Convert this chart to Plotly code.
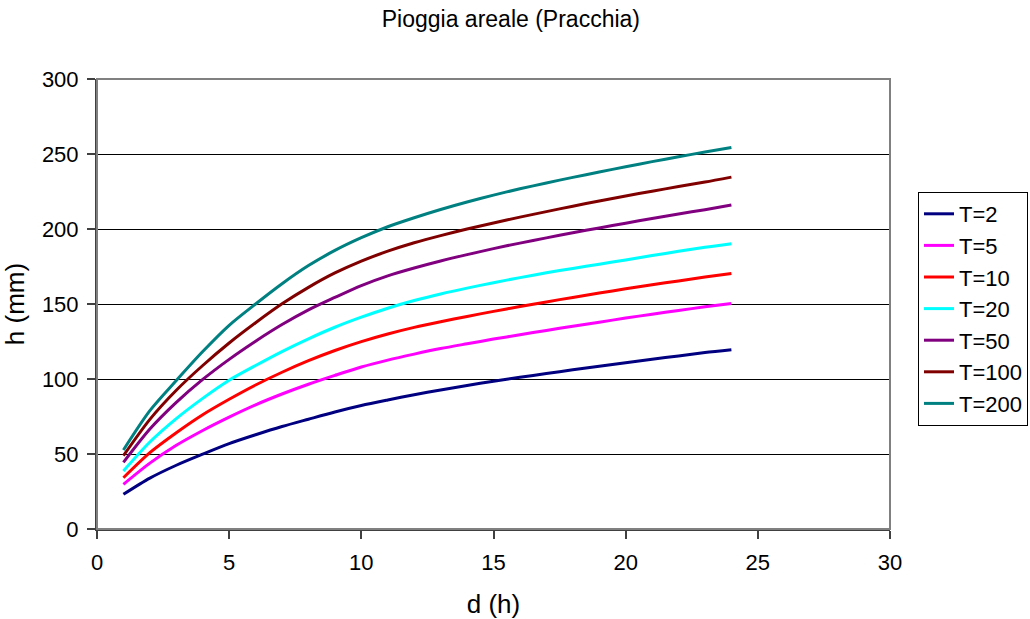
import plotly.graph_objects as go

# Durations (hours)
durations = list(range(1, 25))

# Areal rainfall depth h (mm) for each return period T
h_T2 = [23.1, 33.9, 42.5, 49.9, 56.9, 62.8, 68.3, 73.2, 78.0, 82.3, 86.0, 89.5,
        92.7, 95.7, 98.5, 101.1, 103.6, 106.1, 108.5, 110.9, 113.2, 115.4, 117.6, 119.5]
h_T5 = [29.8, 43.9, 55.8, 65.7, 74.6, 82.8, 90.0, 96.5, 102.4, 108.0, 112.6, 116.6,
        120.3, 123.5, 126.6, 129.5, 132.4, 135.2, 137.9, 140.6, 143.2, 145.7, 148.1, 150.4]
h_T10 = [34.2, 50.9, 64.2, 76.2, 86.5, 96.0, 104.5, 112.2, 119.0, 124.9, 130.0, 134.4,
         138.2, 141.7, 145.1, 148.3, 151.4, 154.4, 157.3, 160.1, 162.8, 165.4, 168.0, 170.4]
h_T20 = [38.7, 58.0, 73.6, 87.1, 99.2, 109.0, 118.3, 126.8, 134.5, 141.2, 147.2, 152.3,
         156.7, 160.6, 164.2, 167.6, 170.8, 173.7, 176.5, 179.4, 182.3, 185.1, 187.8, 190.2]
h_T50 = [44.4, 66.6, 84.4, 99.7, 113.1, 125.2, 136.3, 146.1, 154.4, 162.3, 168.8, 174.0,
         178.7, 182.9, 186.9, 190.6, 194.1, 197.5, 200.7, 203.9, 207.0, 210.0, 212.9, 216.0]
h_T100 = [48.9, 73.1, 92.5, 109.0, 124.0, 137.5, 150.1, 161.1, 170.7, 178.6, 185.2, 190.8,
          195.6, 200.0, 204.0, 207.9, 211.6, 215.2, 218.7, 222.0, 225.2, 228.3, 231.3, 234.6]
h_T200 = [52.7, 78.9, 99.0, 118.3, 135.8, 150.0, 163.5, 175.6, 185.7, 194.2, 201.5, 207.5,
          213.0, 218.0, 222.6, 226.8, 230.7, 234.4, 238.0, 241.5, 244.9, 248.2, 251.3, 254.3]

series_names = ["T=2", "T=5", "T=10", "T=20", "T=50", "T=100", "T=200"]
series_values = [h_T2, h_T5, h_T10, h_T20, h_T50, h_T100, h_T200]
series_colors = ["#000080", "#FF00FF", "#FF0000", "#00FFFF", "#800080", "#800000", "#008080"]

x_ticks = [0, 5, 10, 15, 20, 25, 30]
y_ticks = [0, 50, 100, 150, 200, 250, 300]

FONT = "Liberation Sans, Arial, sans-serif"

fig = go.Figure()
for name, vals, col in zip(series_names, series_values, series_colors):
    fig.add_trace(go.Scatter(
        x=durations, y=vals, name=name, mode="lines",
        line=dict(color=col, width=3, shape="spline", smoothing=0.8),
    ))

fig.update_layout(
    width=1030, height=619,
    margin=dict(l=97, r=140, t=79, b=90, autoexpand=False),
    paper_bgcolor="white", plot_bgcolor="white",
    font=dict(family=FONT, size=22, color="black"),
    title=dict(text="Pioggia areale (Pracchia)", x=0.496, xanchor="center",
               y=0.97, yanchor="middle", font=dict(size=23)),
    showlegend=True,
    legend=dict(
        xref="container", yref="container",
        x=918 / 1030, xanchor="left", y=1 - 192 / 619, yanchor="top",
        bordercolor="black", borderwidth=1, bgcolor="white",
        font=dict(size=22), itemwidth=30, tracegroupgap=0,
    ),
)

fig.update_xaxes(
    range=[0, 30], tickvals=x_ticks, ticktext=[str(v) for v in x_ticks],
    showgrid=False, zeroline=False,
    showline=True, linecolor="#404040", linewidth=2,
    ticks="outside", ticklen=8, tickwidth=2, tickcolor="#404040",
    ticklabelstandoff=5,
    title=dict(text="d (h)", standoff=20),
)
fig.update_yaxes(
    range=[0, 300], tickvals=y_ticks, ticktext=[str(v) for v in y_ticks],
    showgrid=True, gridcolor="black", gridwidth=1, zeroline=False,
    showline=True, linecolor="#404040", linewidth=2,
    ticks="outside", ticklen=8, tickwidth=2, tickcolor="#404040",
    ticklabelstandoff=4,
    title=dict(text="h (mm)", standoff=11),
)

# Plot-area border (grey), drawn over the top gridline
fig.add_shape(type="rect", xref="paper", yref="paper", x0=0, x1=1, y0=0, y1=1,
              line=dict(color="#808080", width=2), layer="above")

fig.write_html("out.html")
